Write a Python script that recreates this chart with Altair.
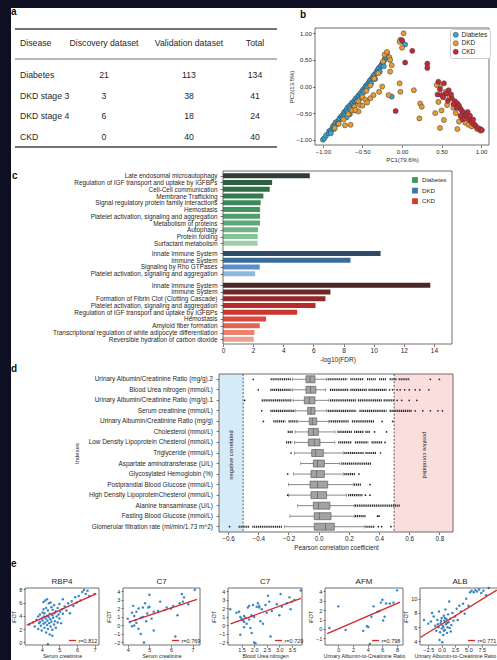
import altair as alt
import pandas as pd

W, H = 497, 660
FONT = "Liberation Sans"
INK = "#1f1f1f"
FRAME = "#4d4d4d"
DARK = "#0f0f24"

# ---------------- a: cohort table ----------------
TABLE_HEADER = ["Disease", "Discovery dataset", "Validation dataset", "Total"]
TABLE_DISEASE = ["Diabetes", "DKD stage 3", "DKD stage 4", "CKD"]
TABLE_DISCOVERY = [21, 3, 6, 0]
TABLE_VALIDATION = [113, 38, 18, 40]
TABLE_TOTAL = [134, 41, 24, 40]

# ---------------- b: PCA scores (PC1, PC2) ----------------
PCA_GROUPS = ["Diabetes", "DKD", "CKD"]
PCA_DIABETES = [
    (-1.0, -1.0), (-0.98, -0.97), (-0.96, -0.92), (-0.93, -0.88), (-0.92, -0.84), (-0.9, -0.83),
    (-0.88, -0.78), (-0.87, -0.74), (-0.85, -0.72), (-0.84, -0.68), (-0.82, -0.66), (-0.8, -0.64),
    (-0.79, -0.6), (-0.77, -0.57), (-0.76, -0.55), (-0.74, -0.52), (-0.73, -0.48), (-0.71, -0.46),
    (-0.7, -0.44), (-0.69, -0.4), (-0.67, -0.38), (-0.66, -0.36), (-0.64, -0.33), (-0.63, -0.3),
    (-0.62, -0.32), (-0.6, -0.27), (-0.59, -0.24), (-0.58, -0.22), (-0.56, -0.2), (-0.55, -0.17),
    (-0.53, -0.14), (-0.52, -0.12), (-0.5, -0.08), (-0.49, -0.06), (-0.47, -0.03), (-0.46, 0.0),
    (-0.45, 0.02), (-0.43, 0.05), (-0.42, 0.07), (-0.41, 0.1), (-0.4, 0.12), (-0.38, 0.15),
    (-0.37, 0.17), (-0.36, 0.2), (-0.35, 0.22), (-0.33, 0.25), (-0.32, 0.28), (-0.31, 0.3),
    (-0.3, 0.33), (-0.29, 0.35), (-0.27, 0.38), (-0.26, 0.4), (-0.25, 0.43), (-0.24, 0.45),
    (-0.22, 0.5), (-0.21, 0.55), (-0.2, 0.58), (-0.19, 0.62), (-0.9, -0.88), (-0.86, -0.8),
    (-0.81, -0.7), (-0.75, -0.6), (-0.72, -0.55), (-0.68, -0.47), (-0.65, -0.42), (-0.61, -0.36),
    (-0.57, -0.28), (-0.54, -0.24), (-0.51, -0.16), (-0.48, -0.1), (-0.44, -0.02), (-0.39, 0.06),
    (-0.34, 0.14), (-0.28, 0.28), (-0.23, 0.38), (-0.13, -0.19), (0.0, 0.85), (0.04, 0.79),
    (-0.02, 0.88), (-0.6, -0.45), (-0.66, -0.52), (-0.7, -0.58),
]
PCA_DKD = [
    (-0.22, 0.6), (-0.19, 0.65), (-0.16, 0.55), (-0.24, 0.47), (-0.15, 0.5), (-0.3, 0.25),
    (-0.35, 0.15), (-0.4, 0.02), (-0.45, -0.08), (-0.5, -0.2), (-0.55, -0.28), (-0.6, -0.38),
    (-0.63, -0.45), (-0.68, -0.52), (-0.74, -0.62), (-0.8, -0.7), (-0.85, -0.78),
    (-0.65, -0.72), (-0.72, -0.73), (-0.55, -0.47), (-0.59, -0.44), (-0.53, -0.35), (-0.46, -0.25),
    (-0.4, -0.22), (-0.36, -0.16), (-0.29, -0.1), (-0.25, 0.0), (-0.17, -0.16), (-0.13, 0.4),
    (-0.15, 0.28), (-0.03, 0.06), (-0.02, -0.1), (0.15, -0.07), (0.23, -0.32), (0.25, -0.38),
    (0.22, -0.6), (0.02, 1.0), (-0.03, 0.84), (0.0, 0.73), (-0.5, -0.36), (-0.44, -0.3),
    (0.48, 0.0), (0.44, 0.03), (0.46, -0.29), (0.42, -0.5), (0.5, -0.45), (0.57, -0.35),
    (0.53, -0.63), (0.48, -0.78), (0.72, -0.66), (0.75, -0.57), (0.8, -0.68), (0.84, -0.72),
    (0.88, -0.75), (0.92, -0.72), (0.95, -0.8), (0.99, -0.83), (0.6, -0.2), (0.65, -0.4),
    (0.68, -0.5), (0.55, -0.1), (0.7, -0.8),
]
PCA_CKD = [
    (0.0, 0.87), (0.13, 0.67), (0.04, 0.45), (0.32, 0.43), (0.32, 0.35), (-0.08, -0.46),
    (0.46, 0.09), (0.53, 0.06), (0.45, -0.15), (0.5, -0.16), (0.56, -0.13), (0.59, -0.07),
    (0.63, -0.22), (0.67, -0.28), (0.7, -0.32), (0.72, -0.36), (0.74, -0.42), (0.76, -0.46),
    (0.78, -0.5), (0.8, -0.53), (0.82, -0.56), (0.84, -0.6), (0.86, -0.63), (0.88, -0.66),
    (0.9, -0.7), (0.93, -0.74), (0.96, -0.78), (0.99, -0.8), (1.01, -0.82), (0.77, -0.62),
    (0.83, -0.48), (0.69, -0.4), (0.65, -0.33), (0.74, -0.55), (0.86, -0.55), (0.9, -0.62),
    (0.62, -0.15), (0.48, -0.05), (0.52, -0.2), (0.58, -0.27),
]

# ---------------- c: enriched pathways ----------------
PATH_DIABETES = [
    "Late endosomal microautophagy", "Regulation of IGF transport and uptake by IGFBPs",
    "Cell-Cell communication", "Membrane Trafficking", "Signal regulatory protein family interactions",
    "Hemostasis", "Platelet activation, signaling and aggregation", "Metabolism of proteins",
    "Autophagy", "Protein folding", "Surfactant metabolism",
]
FDR_DIABETES = [5.76, 3.26, 3.10, 2.68, 2.50, 2.46, 2.46, 2.46, 2.33, 2.30, 2.30]
PATH_DKD = [
    "Innate Immune System", "Immune System", "Signaling by Rho GTPases",
    "Platelet activation, signaling and aggregation",
]
FDR_DKD = [10.46, 8.46, 2.44, 2.13]
PATH_CKD = [
    "Innate Immune System", "Immune System", "Formation of Fibrin Clot (Clotting Cascade)",
    "Platelet activation, signaling and aggregation", "Regulation of IGF transport and uptake by IGFBPs",
    "Hemostasis", "Amyloid fiber formation", "Transcriptional regulation of white adipocyte differentiation",
    "Reversible hydration of carbon dioxide",
]
FDR_CKD = [13.76, 7.13, 6.80, 6.14, 4.92, 2.86, 2.44, 2.08, 2.04]

# ---------------- d: correlation of indexes ----------------
INDEX_NAMES = [
    "Urinary Albumin/Creatinine Ratio (mg/g).2",
    "Blood Urea nitrogen  (mmol/L)",
    "Urinary Albumin/Creatinine Ratio (mg/g).1",
    "Serum creatinine (mmol/L)",
    "Urinary Albumin/Creatinine Ratio (mg/g)",
    "Cholesterol (mmol/L)",
    "Low Density Lipoprotein Chesterol (mmol/L)",
    "Triglyceride (mmol/L)",
    "Aspartate aminotransferase (U/L)",
    "Glycosylated Hemoglobin (%)",
    "Postprandial Blood Glucose (mmol/L)",
    "High Density LipoproteinChesterol (mmol/L)",
    "Alanine transaminase (U/L)",
    "Fasting Blood Glucose (mmol/L)",
    "Glomerular filtration rate (ml/min/1.73 m^2)",
]
BOX_LO = [-0.174, -0.174, -0.168, -0.152, -0.139, -0.155, -0.16, -0.16, -0.119, -0.168, -0.2, -0.2, -0.139, -0.19, -0.227]
BOX_Q1 = [-0.084, -0.084, -0.095, -0.073, -0.062, -0.068, -0.068, -0.046, -0.035, -0.051, -0.057, -0.051, -0.035, -0.029, -0.029]
BOX_MED = [-0.057, -0.053, -0.062, -0.051, -0.042, -0.035, -0.029, -0.02, -0.007, -0.013, -0.007, -0.007, -0.002, 0.004, 0.046]
BOX_Q3 = [-0.024, -0.018, -0.024, -0.024, -0.013, -0.002, 0.009, 0.031, 0.038, 0.038, 0.06, 0.053, 0.075, 0.082, 0.104]
BOX_HI = [0.053, 0.046, 0.068, 0.053, 0.064, 0.108, 0.108, 0.163, 0.141, 0.163, 0.23, 0.185, 0.236, 0.236, 0.302]
# runs of closely packed outliers (from, to)
OUTLIER_RUNS = [
    [(-0.318, -0.18), (0.06, 0.19), (0.21, 0.30), (0.32, 0.38), (0.40, 0.45), (0.47, 0.52), (0.53, 0.60)],
    [(-0.32, -0.18), (0.075, 0.2), (0.21, 0.32), (0.33, 0.45)],
    [(-0.377, -0.175), (0.075, 0.25), (0.26, 0.42), (0.43, 0.5)],
    [(-0.32, -0.16), (0.06, 0.25), (0.27, 0.45), (0.47, 0.62)],
    [(-0.30, -0.22), (-0.2, -0.145), (0.07, 0.2), (0.22, 0.37)],
    [(-0.205, -0.17), (0.125, 0.22), (0.235, 0.3), (0.31, 0.34)],
    [(-0.216, -0.175), (0.13, 0.22), (0.24, 0.33), (0.35, 0.42)],
    [(0.17, 0.3), (0.31, 0.38)],
    [(0.15, 0.35)],
    [(0.17, 0.24)],
    [(0.235, 0.28)],
    [(0.195, 0.29)],
    [(0.24, 0.54)],
    [(0.24, 0.31)],
    [(-0.53, -0.46), (-0.44, -0.24), (0.31, 0.37)],
]
# isolated outliers
OUTLIER_POINTS = [
    [-0.433, 0.74, 0.80],
    [-0.40, 0.47, 0.49, 0.52, 0.54, 0.57, 0.60, 0.64, 0.67, 0.73],
    [-0.49, 0.52, 0.55, 0.60, 0.65],
    [-0.377, 0.64, 0.69, 0.74, 0.79, 0.82],
    [-0.366, 0.42, 0.49],
    [0.37, 0.45],
    [0.44],
    [-0.183, 0.41],
    [],
    [-0.205, 0.267],
    [0.34],
    [-0.205, 0.31, 0.34],
    [],
    [0.39, 0.40],
    [-0.59, 0.395, 0.417, 0.479],
]

# ---------------- e: protein vs clinical index ----------------
E_TITLES = ["RBP4", "C7", "C7", "AFM", "ALB"]
E_XTITLES = ["Serum creatinine", "Serum creatinine", "Blood Urea nitrogen",
             "Urinary Albumin-to-Creatinine Ratio", "Urinary Albumin-to-Creatinine Ratio"]
E_R = ["r=0.812", "r=0.769", "r=0.729", "r=0.798", "r=0.771"]
E1_POINTS = [
    (3.3, 2.7), (3.5, 3.0), (3.6, 2.4), (3.7, 3.4), (3.8, 2.0), (3.8, 3.9), (3.85, 2.9), (3.9, 4.2),
    (3.9, 3.1), (3.95, 2.5), (4.0, 3.6), (4.0, 1.8), (4.05, 4.5), (4.05, 3.3), (4.1, 2.8), (4.1, 5.0),
    (4.12, 3.9), (4.15, 2.2), (4.15, 4.4), (4.2, 3.0), (4.2, 6.3), (4.22, 3.6), (4.25, 1.5), (4.25, 5.2),
    (4.3, 2.6), (4.3, 4.0), (4.3, 6.5), (4.32, 3.3), (4.35, 4.8), (4.35, 2.0), (4.4, 3.8), (4.4, 5.9),
    (4.42, 2.9), (4.45, 4.3), (4.45, 1.2), (4.5, 3.5), (4.5, 6.0), (4.5, 2.4), (4.55, 5.3), (4.55, 3.1),
    (4.6, 4.1), (4.6, 1.9), (4.62, 4.9), (4.65, 3.7), (4.7, 2.7), (4.7, 5.6), (4.72, 4.4), (4.75, 3.2),
    (4.8, 4.7), (4.8, 2.2), (4.85, 3.9), (4.9, 5.2), (4.9, 3.0), (4.95, 4.2), (5.0, 3.6), (5.0, 5.8),
    (5.05, 4.6), (5.1, 2.9), (5.15, 5.0), (5.2, 4.3), (5.3, 5.4), (5.4, 4.8), (5.5, 5.9), (5.6, 4.4),
    (5.7, 6.2), (5.8, 5.5), (5.9, 6.8), (6.0, 6.0), (6.1, 7.0), (6.2, 6.3), (6.3, 7.6), (6.4, 7.9),
    (6.5, 7.3), (6.6, 7.8), (6.7, 7.0), (7.0, 7.3), (4.35, -0.3), (4.6, 1.0), (5.2, 6.5), (4.1, 6.1),
]
E2_POINTS = [
    (4.0, 0.8), (4.1, 0.4), (4.2, 1.5), (4.25, 2.3), (4.3, 1.1), (4.35, 0.6), (4.4, 0.3), (4.4, 1.6),
    (4.5, 2.0), (4.5, -0.4), (4.6, 0.9), (4.6, -1.0), (4.7, 2.1), (4.7, 1.0), (4.75, -2.0), (4.8, 2.6),
    (4.85, 0.5), (4.9, 1.4), (4.95, 2.1), (5.0, 3.6), (5.0, 2.2), (5.1, 0.8), (5.2, 1.6), (5.2, -0.6),
    (5.4, 1.7), (5.5, 2.8), (5.7, 1.8), (5.8, 2.1), (6.0, 2.0), (6.1, 2.3), (6.2, -1.3), (6.3, 1.2),
    (6.4, 2.6), (6.5, 3.7), (6.55, 2.8), (6.6, 3.3), (6.8, 2.5), (7.1, 4.2), (4.2, -0.1), (4.3, 0.0),
]
E3_POINTS = [
    (1.05, 1.9), (1.3, 1.5), (1.4, 1.6), (1.45, 1.0), (1.5, 0.8), (1.55, 0.6), (1.6, 0.4), (1.6, 1.1),
    (1.65, 0.9), (1.7, 0.2), (1.75, 2.1), (1.8, 2.3), (1.8, 0.7), (1.85, -0.3), (1.9, 1.2), (1.9, -0.9),
    (1.95, 2.4), (2.0, 1.0), (2.0, -2.0), (2.05, -2.1), (2.1, 2.2), (2.15, 2.6), (2.2, 2.1), (2.2, 2.3),
    (2.25, 0.5), (2.3, 1.9), (2.35, 0.2), (2.45, 2.4), (2.5, 1.5), (2.55, 3.5), (2.6, 2.8), (2.65, -1.3),
    (2.7, 1.7), (2.9, 2.5), (3.0, 1.2), (3.05, 3.7), (3.1, 2.2), (3.3, 2.6), (3.4, 3.3), (3.45, 1.9),
    (3.5, 2.8), (3.6, 3.0), (3.85, 4.1), (1.45, -1.1), (1.6, -0.2),
]
E4_POINTS = [
    (-1.2, 0.1), (0.0, 2.4), (1.0, -0.1), (3.4, -0.2), (3.9, 0.3), (4.1, 0.2), (4.3, -1.6), (4.5, 1.3),
    (4.8, 2.4), (5.3, 1.8), (5.6, 1.9), (5.8, 2.8), (6.0, 3.1), (6.1, 0.9), (6.3, 1.3), (6.5, 2.7),
    (7.0, 2.7), (7.5, 2.8), (8.0, 4.1),
]
E5_POINTS = [
    (-3.3, 7.0), (-2.5, 6.5), (-2.0, 6.8), (-1.5, 7.5), (-1.2, 6.2), (-1.0, 5.5), (-0.8, 7.0), (-0.6, 6.0),
    (-0.5, 8.2), (-0.3, 5.3), (-0.2, 6.6), (0.0, 7.3), (0.0, 5.8), (0.2, 6.2), (0.3, 4.9), (0.4, 7.6),
    (0.5, 6.9), (0.6, 5.6), (0.7, 8.5), (0.8, 6.4), (0.9, 7.1), (1.0, 5.2), (1.1, 6.0), (1.2, 7.8),
    (1.3, 6.7), (1.5, 5.9), (1.6, 7.2), (1.8, 6.3), (2.0, 8.0), (2.2, 6.9), (2.5, 7.5), (2.8, 8.6),
    (3.0, 7.0), (3.3, 9.0), (3.6, 8.2), (4.0, 9.3), (4.3, 7.9), (4.6, 10.0), (5.0, 9.0), (5.3, 10.9),
    (5.6, 11.1), (6.0, 10.9), (6.3, 11.2), (6.6, 11.0), (7.0, 11.3), (7.4, 10.8), (7.8, 11.1), (8.3, 10.5),
    (8.8, 11.5), (-0.4, 4.2), (0.1, 3.9), (1.4, 9.6), (-1.8, 8.0), (0.3, 6.0), (0.6, 7.3), (-0.1, 6.9),
    (1.0, 6.6), (0.4, 5.5), (-0.7, 6.4), (1.7, 5.4),
]
# fitted regression lines: (start, end)
E_FITS = [
    [(3.15, 2.6), (7.1, 7.35)],
    [(4.05, 0.4), (7.2, 3.05)],
    [(1.06, 0.18), (3.86, 3.17)],
    [(-1.5, -0.5), (8.4, 2.85)],
    [(-4.0, 4.55), (10.3, 11.2)],
]
E_POINTS = [E1_POINTS, E2_POINTS, E3_POINTS, E4_POINTS, E5_POINTS]


# ---------------- helpers ----------------
def lin(domain, rng):
    return alt.Scale(domain=list(domain), range=list(rng), nice=False, zero=False)


def ax_bottom(y_px, **kw):
    return alt.Axis(orient="bottom", offset=y_px - H, **kw)


def ax_left(x_px, **kw):
    return alt.Axis(orient="left", offset=-x_px, **kw)


def frame(xdom, ydom, xr, yr, width=0.8):
    df = pd.DataFrame({"x0": [xdom[0]], "x1": [xdom[1]], "y0": [ydom[0]], "y1": [ydom[1]]})
    return alt.Chart(df).mark_rect(fillOpacity=0, stroke=FRAME, strokeWidth=width).encode(
        x=alt.X("x0:Q", scale=lin(xdom, xr), axis=None), x2="x1",
        y=alt.Y("y0:Q", scale=lin(ydom, yr), axis=None), y2="y1",
    )


layers = []

# ---------------- a ----------------
TAB_X = [20, 104, 189, 255]
TAB_ALIGN = ["left", "center", "center", "center"]
TAB_HEAD_Y = 43
TAB_ROW_RANGE = [75, 137]
TAB_LINES = [(29, 1.3), (59, 0.8), (147, 1.3)]
TAB_X0, TAB_X1 = 15, 277
TAB_FONT = 8.7

table_df = pd.DataFrame({
    "Disease": TABLE_DISEASE,
    "Discovery": [str(v) for v in TABLE_DISCOVERY],
    "Validation": [str(v) for v in TABLE_VALIDATION],
    "Total": [str(v) for v in TABLE_TOTAL],
})
for i, col in enumerate(["Disease", "Discovery", "Validation", "Total"]):
    layers.append(
        alt.Chart(pd.DataFrame({"t": [TABLE_HEADER[i]]}))
        .mark_text(align=TAB_ALIGN[i], baseline="middle", fontSize=TAB_FONT, color=INK)
        .encode(x=alt.value(TAB_X[i]), y=alt.value(TAB_HEAD_Y), text="t:N")
    )
    layers.append(
        alt.Chart(table_df)
        .mark_text(align=TAB_ALIGN[i], baseline="middle", fontSize=TAB_FONT, color=INK)
        .encode(
            x=alt.value(TAB_X[i]),
            y=alt.Y("Disease:N", scale=alt.Scale(type="point", domain=TABLE_DISEASE,
                                                 range=TAB_ROW_RANGE, padding=0), axis=None),
            text=f"{col}:N",
        )
    )
for ly, lw in TAB_LINES:
    layers.append(
        alt.Chart(pd.DataFrame({"k": [0]})).mark_rule(color="#444444", strokeWidth=lw)
        .encode(x=alt.value(TAB_X0), x2=alt.value(TAB_X1), y=alt.value(ly))
    )

# ---------------- b ----------------
B_XDOM, B_YDOM = [-1.1, 1.1], [-1.1, 1.1]
B_XR, B_YR = [315, 489], [145, 28]
PCA_COLORS = ["#3aa6d6", "#e89b33", "#c42a33"]
pca_df = pd.DataFrame(
    [("Diabetes", x, y) for x, y in PCA_DIABETES]
    + [("DKD", x, y) for x, y in PCA_DKD]
    + [("CKD", x, y) for x, y in PCA_CKD],
    columns=["group", "pc1", "pc2"],
)
pca_ticks = [-1, -0.5, 0, 0.5, 1]
layers.append(frame(B_XDOM, B_YDOM, B_XR, B_YR))
layers.append(
    alt.Chart(pca_df).mark_circle(size=26, opacity=1, stroke="#3b3b3b", strokeWidth=0.5).encode(
        x=alt.X("pc1:Q", scale=lin(B_XDOM, B_XR),
                axis=ax_bottom(B_YR[0], values=pca_ticks, format=".2f", title="PC1(79.6%)")),
        y=alt.Y("pc2:Q", scale=lin(B_YDOM, B_YR),
                axis=ax_left(B_XR[0], values=pca_ticks, format=".2f", title="PC2(13.5%)")),
        color=alt.Color("group:N", scale=alt.Scale(domain=PCA_GROUPS, range=PCA_COLORS),
                        legend=alt.Legend(orient="none", legendX=450, legendY=29, title=None,
                                          symbolType="circle", symbolSize=26,
                                          symbolStrokeColor="#3b3b3b", symbolStrokeWidth=0.5,
                                          labelFontSize=6.5, padding=2.5, rowPadding=0.5,
                                          labelOffset=2.5, fillColor="white",
                                          strokeColor="#cfcfcf", cornerRadius=2)),
    )
)

# ---------------- c ----------------
C_XDOM, C_XR = [0, 15.2], [223, 452]
C_YDOM, C_YR = [-0.7, 24.9], [171, 344]
C_EXTRA_GAP = [0, 0.5, 0.7]
C_HALF = 0.37
C_COLORS = [
    ["#2f3d33", "#2d5e3f", "#2f6e47", "#347c4f", "#3b8958", "#449462", "#4f9e6c",
     "#5ca877", "#6fb585", "#86c296", "#9fcfaa"],
    ["#2e4a67", "#3a6c9a", "#5b91c6", "#8fb8dd"],
    ["#4a2626", "#6e2727", "#932a2a", "#b32d2d", "#cc3631", "#d9493d", "#e16552",
     "#e88370", "#eda08e"],
]
C_LEGEND_COLORS = ["#3f9a5a", "#3d77ad", "#d23a33"]

c_rows = []
slot = 0.0
for g, (names, vals, cols, extra) in enumerate(zip(
        [PATH_DIABETES, PATH_DKD, PATH_CKD], [FDR_DIABETES, FDR_DKD, FDR_CKD], C_COLORS, C_EXTRA_GAP)):
    slot += extra
    for n, v, c in zip(names, vals, cols):
        c_rows.append({"name": n, "fdr": v, "slot": round(slot, 3), "col": c, "group": PCA_GROUPS[g]})
        slot += 1
c_df = pd.DataFrame(c_rows)
c_slots = c_df["slot"].tolist()
label_expr = ("[" + ",".join('"' + n + '"' for n in c_df["name"]) + "][indexof(["
              + ",".join(repr(s) for s in c_slots) + "], datum.value)]")

layers.append(
    alt.Chart(c_df).transform_calculate(
        lo=f"datum.slot - {C_HALF}", hi=f"datum.slot + {C_HALF}", zero="0"
    ).mark_rect().encode(
        x=alt.X("zero:Q", scale=lin(C_XDOM, C_XR),
                axis=ax_bottom(C_YR[1], values=list(range(0, 15, 2)), format="d",
                               title="-log10(FDR)", labelFontSize=6.5, titleFontSize=6.5)),
        x2="fdr:Q",
        y=alt.Y("lo:Q", scale=lin(C_YDOM, C_YR),
                axis=ax_left(C_XR[0], values=c_slots, labelExpr=label_expr, title=None,
                             labelFontSize=6.4, tickSize=3, labelPadding=3)),
        y2="hi:Q",
        color=alt.Color("col:N", scale=None),
    )
)
layers.append(frame(C_XDOM, C_YDOM, C_XR, C_YR))
layers.append(
    alt.Chart(pd.DataFrame({"group": PCA_GROUPS})).mark_square(size=30, opacity=1).encode(
        x=alt.value(-60), y=alt.value(-60),
        color=alt.Color("group:N", scale=alt.Scale(domain=PCA_GROUPS, range=C_LEGEND_COLORS),
                        legend=alt.Legend(orient="none", legendX=411, legendY=176, title=None,
                                          symbolType="square", symbolSize=34, symbolOpacity=1,
                                          labelFontSize=6.2, rowPadding=2.6, labelOffset=3,
                                          padding=0)),
    )
)

# ---------------- d ----------------
D_XDOM, D_XR = [-0.66, 0.89], [219, 453]
D_TOP, D_BOT = 374, 532
d_x = lin(D_XDOM, D_XR)
d_y = alt.Scale(type="band", domain=INDEX_NAMES, range=[D_TOP, D_BOT], paddingInner=0, paddingOuter=0)

box_df = pd.DataFrame({"name": INDEX_NAMES, "lo": BOX_LO, "q1": BOX_Q1, "med": BOX_MED,
                       "q3": BOX_Q3, "hi": BOX_HI})
run_df = pd.DataFrame([{"name": n, "a": a, "b": b} for n, runs in zip(INDEX_NAMES, OUTLIER_RUNS)
                       for a, b in runs])
pt_df = pd.DataFrame([{"name": n, "v": v} for n, pts in zip(INDEX_NAMES, OUTLIER_POINTS) for v in pts])
zone_df = pd.DataFrame({"a": [D_XDOM[0], 0.5], "b": [-0.5, D_XDOM[1]], "c": ["#d5ebf7", "#fadddd"]})
cut_df = pd.DataFrame({"v": [-0.5, 0.5]})

layers.append(
    alt.Chart(zone_df).mark_rect().encode(
        x=alt.X("a:Q", scale=d_x, axis=None), x2="b:Q",
        y=alt.value(D_TOP), y2=alt.value(D_BOT), color=alt.Color("c:N", scale=None))
)
layers.append(
    alt.Chart(cut_df).mark_rule(strokeDash=[2, 1.6], color="#333333", strokeWidth=0.8).encode(
        x=alt.X("v:Q", scale=d_x, axis=None), y=alt.value(D_TOP), y2=alt.value(D_BOT))
)
layers.append(
    alt.Chart(box_df).mark_rule(color="#555555", strokeWidth=0.7).encode(
        x=alt.X("lo:Q", scale=d_x,
                axis=ax_bottom(D_BOT, values=[-0.6, -0.4, -0.2, 0.0, 0.2, 0.4, 0.6, 0.8], format=".1f",
                               title="Pearson correlation coefficient", labelFontSize=6.3,
                               titleFontSize=6.3)),
        x2="hi:Q",
        y=alt.Y("name:N", scale=d_y, sort=INDEX_NAMES,
                axis=ax_left(D_XR[0], title="Indexes", labelFontSize=6.4, tickSize=3,
                             labelPadding=3.5, titlePadding=9)),
    )
)
for f in ["lo", "hi"]:
    layers.append(
        alt.Chart(box_df).mark_tick(size=3.5, thickness=0.7, color="#555555").encode(
            x=alt.X(f"{f}:Q", scale=d_x, axis=None),
            y=alt.Y("name:N", scale=d_y, axis=None))
    )
layers.append(
    alt.Chart(run_df).mark_rule(strokeDash=[1.2, 0.7], strokeWidth=2.2, color="#2a2a2a").encode(
        x=alt.X("a:Q", scale=d_x, axis=None), x2="b:Q",
        y=alt.Y("name:N", scale=d_y, axis=None))
)
layers.append(
    alt.Chart(pt_df).mark_circle(size=3, opacity=1, color="#222222").encode(
        x=alt.X("v:Q", scale=d_x, axis=None),
        y=alt.Y("name:N", scale=d_y, axis=None))
)
layers.append(
    alt.Chart(box_df).mark_bar(size=7, fill="#a3a3a3", stroke="#4d4d4d", strokeWidth=0.6).encode(
        x=alt.X("q1:Q", scale=d_x, axis=None), x2="q3:Q",
        y=alt.Y("name:N", scale=d_y, axis=None))
)
layers.append(
    alt.Chart(box_df).mark_tick(size=7, thickness=0.8, color="#4d4d4d").encode(
        x=alt.X("med:Q", scale=d_x, axis=None),
        y=alt.Y("name:N", scale=d_y, axis=None))
)
layers.append(frame(D_XDOM, [0, 1], D_XR, [D_BOT, D_TOP]))
for txt, xv, ang in [("negative correlated", -0.582, 270), ("positive correlated", 0.705, 90)]:
    layers.append(
        alt.Chart(pd.DataFrame({"t": [txt], "x": [xv]})).mark_text(
            angle=ang, fontSize=5.8, color=INK, baseline="middle", align="center").encode(
            x=alt.X("x:Q", scale=d_x, axis=None), y=alt.value((D_TOP + D_BOT) / 2 + 2), text="t:N")
    )

# ---------------- e ----------------
E_TOP, E_BOT = 588, 645
E_LAYOUT = [
    dict(xdom=[3.05, 7.25], ydom=[-0.4, 8.2], xr=[25, 99], xt=[4, 5, 6, 7], yt=[0, 2, 4, 6, 8], fmt="d", legx=68),
    dict(xdom=[3.78, 7.34], ydom=[-2.3, 4.4], xr=[123, 200], xt=[4, 5, 6, 7], yt=[-2, -1, 0, 1, 2, 3, 4], fmt="d", legx=171),
    dict(xdom=[0.96, 3.9], ydom=[-2.3, 4.4], xr=[228, 302], xt=[1.5, 2.0, 2.5, 3.0, 3.5], yt=[-2, -1, 0, 1, 2, 3, 4], fmt=".1f", legx=274),
    dict(xdom=[-1.8, 8.8], ydom=[-1.7, 4.35], xr=[325, 403], xt=[0, 2, 4, 6, 8], yt=[-1, 0, 1, 2, 3, 4], fmt="d", legx=371),
    dict(xdom=[-4.05, 10.9], ydom=[3.5, 11.5], xr=[420, 500], xt=[-2.5, 0.0, 2.5, 5.0, 7.5], yt=[4, 6, 8, 10], fmt=".1f", legx=467),
]
for k, lay in enumerate(E_LAYOUT):
    yr = [E_BOT, E_TOP]
    sx, sy = lin(lay["xdom"], lay["xr"]), lin(lay["ydom"], yr)
    pts = pd.DataFrame(E_POINTS[k], columns=["x", "y"])
    fit = pd.DataFrame(E_FITS[k], columns=["x", "y"]).assign(lab=E_R[k])
    title_place = {}
    if lay["xr"][1] > W:
        # last panel runs into the page edge: start its axis title just left of the frame
        title_place = dict(titleX=lay["xr"][0] - 6, titleAlign="left")
    layers.append(
        alt.Chart(pts).mark_circle(size=6, opacity=0.95, color="#2f7fc1").encode(
            x=alt.X("x:Q", scale=sx, axis=ax_bottom(E_BOT, values=lay["xt"], format=lay["fmt"],
                                                   title=E_XTITLES[k], labelFontSize=5.5,
                                                   titleFontSize=5.2, tickSize=2,
                                                   labelPadding=0.8, titlePadding=0.5,
                                                   **title_place)),
            y=alt.Y("y:Q", scale=sy, axis=ax_left(lay["xr"][0], values=lay["yt"], format="d",
                                                 title="iFOT", labelFontSize=5.5,
                                                 titleFontSize=5.5, tickSize=2)),
        )
    )
    layers.append(
        alt.Chart(fit).mark_line(strokeWidth=1.3).encode(
            x=alt.X("x:Q", scale=sx, axis=None),
            y=alt.Y("y:Q", scale=sy, axis=None),
            color=alt.Color("lab:N", scale=alt.Scale(domain=[E_R[k]], range=["#d62728"]),
                            legend=alt.Legend(orient="none", legendX=lay["legx"], legendY=E_BOT - 9,
                                              title=None, symbolType="stroke", symbolSize=50,
                                              symbolStrokeWidth=1.3, labelFontSize=5.5,
                                              labelOffset=1.5, padding=0)),
        )
    )
    layers.append(frame(lay["xdom"], lay["ydom"], lay["xr"], yr))
    layers.append(
        alt.Chart(pd.DataFrame({"t": [E_TITLES[k]]})).mark_text(fontSize=8, color=INK, baseline="middle")
        .encode(x=alt.value((lay["xr"][0] + lay["xr"][1]) / 2), y=alt.value(E_TOP - 6), text="t:N")
    )

# ---------------- panel letters ----------------
for letter, px, py in [("a", 11, 12), ("b", 300, 15), ("c", 12, 176), ("d", 11, 369), ("e", 11, 564)]:
    layers.append(
        alt.Chart(pd.DataFrame({"t": [letter]})).mark_text(
            fontSize=10, fontWeight="bold", align="left", baseline="middle", color="#111111")
        .encode(x=alt.value(px), y=alt.value(py), text="t:N")
    )

# ---------------- page edge ----------------
edge = pd.DataFrame({"k": [0]})
layers.append(alt.Chart(edge).mark_rect(color=DARK).encode(
    x=alt.value(0), x2=alt.value(W), y=alt.value(0), y2=alt.value(8)))
layers.append(alt.Chart(edge).mark_rect(color=DARK).encode(
    x=alt.value(0), x2=alt.value(11), y=alt.value(0), y2=alt.value(H)))

chart = (
    alt.layer(*layers)
    .resolve_scale(x="independent", y="independent", color="independent")
    .properties(width=W, height=H, padding=0, background="white",
                autosize=alt.AutoSizeParams(type="none"))
    .configure_view(strokeWidth=0)
    .configure_axis(grid=False, domain=False, labelFont=FONT, titleFont=FONT, labelColor=INK,
                    titleColor=INK, tickColor=INK, tickWidth=0.6, labelFontSize=6, titleFontSize=6,
                    titleFontWeight="normal", tickSize=2.5, labelPadding=1.2, titlePadding=2,
                    labelOverlap=False, labelFlush=False)
    .configure_legend(labelFont=FONT, titleFont=FONT, labelColor=INK)
    .configure_text(font=FONT)
)

chart.save("out.html", embed_options={"renderer": "svg", "actions": False})
